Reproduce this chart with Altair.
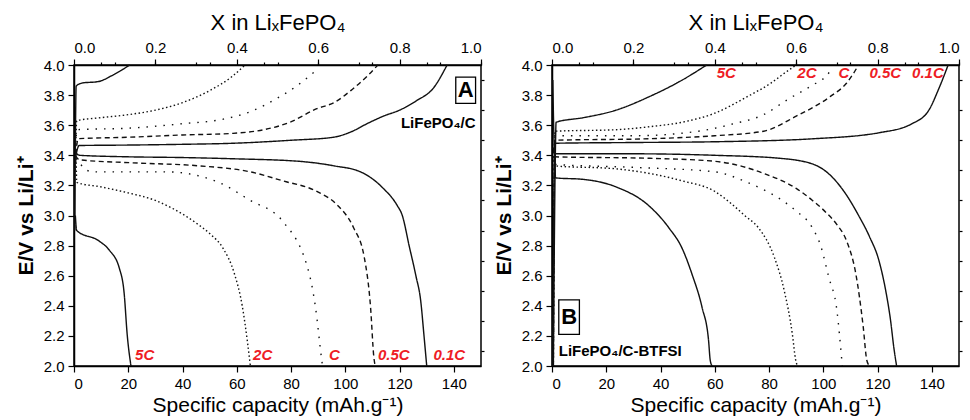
import altair as alt
import pandas as pd

FONT = "Liberation Sans"
RATES = ["5C", "2C", "C", "0.5C", "0.1C"]
DASHES = [[1, 0], [1.5, 2.5], [1.5, 7], [5, 3.5], [1, 0]]

# ---------------- Panel A : LiFePO4/C ----------------
# charge curves (capacity mAh/g, voltage V)
a_chg_5c_x = [0.3, 0.5, 0.8, 3, 9, 14, 17, 20.5]
a_chg_5c_y = [2.9, 3.45, 3.86, 3.88, 3.89, 3.93, 3.96, 4.0]
a_chg_2c_x = [0.5, 1, 10, 20, 30, 40, 50, 58, 63]
a_chg_2c_y = [3.3, 3.63, 3.65, 3.67, 3.70, 3.75, 3.83, 3.92, 4.0]
a_chg_1c_x = [0.5, 1, 20, 40, 55, 65, 75, 82, 89]
a_chg_1c_y = [3.3, 3.57, 3.58, 3.61, 3.64, 3.69, 3.78, 3.86, 3.96]
a_chg_05c_x = [0.5, 1.5, 20, 40, 58.6, 70, 79.6, 89.5, 95.8, 102, 108, 112]
a_chg_05c_y = [3.35, 3.51, 3.52, 3.535, 3.546, 3.57, 3.62, 3.71, 3.75, 3.83, 3.925, 4.0]
a_chg_01c_x = [0.5, 1.9, 20, 40, 58.6, 80, 95.6, 102, 108, 114, 120, 126, 132.6, 137.5]
a_chg_01c_y = [3.38, 3.465, 3.468, 3.473, 3.48, 3.50, 3.52, 3.555, 3.61, 3.66, 3.70, 3.76, 3.85, 4.0]
# discharge curves
a_dis_5c_x = [0.5, 1, 9.3, 13, 16.7, 18.5, 19.6, 21]
a_dis_5c_y = [3.0, 2.90, 2.83, 2.77, 2.65, 2.48, 2.21, 2.0]
a_dis_2c_x = [0.8, 1, 10, 20, 30, 36, 45, 50, 55, 59, 62, 64, 65]
a_dis_2c_y = [3.38, 3.22, 3.19, 3.15, 3.10, 3.05, 2.95, 2.88, 2.78, 2.62, 2.40, 2.15, 2.0]
a_dis_1c_x = [0.5, 6.7, 20, 34, 52, 65, 77, 87, 89, 91.3, 91.6]
a_dis_1c_y = [3.38, 3.29, 3.29, 3.29, 3.23, 3.10, 2.96, 2.59, 2.39, 2.04, 2.0]
a_dis_05c_x = [0.5, 2, 21.6, 46, 65, 77, 89.5, 97, 103, 107, 109.3, 110.5, 111]
a_dis_05c_y = [3.4, 3.37, 3.35, 3.33, 3.29, 3.23, 3.16, 3.07, 2.92, 2.72, 2.39, 2.06, 2.0]
a_dis_01c_x = [0.5, 2, 20, 40, 58.6, 83, 95.8, 105.6, 114, 119, 121, 123.5, 126, 127.8, 129, 130]
a_dis_01c_y = [3.42, 3.40, 3.39, 3.385, 3.377, 3.36, 3.33, 3.29, 3.18, 3.07, 3.0, 2.80, 2.60, 2.43, 2.2, 2.0]

# ---------------- Panel B : LiFePO4/C-BTFSI ----------------
b_chg_5c_x = [0.5, 1.3, 1.5, 11.6, 23.6, 35.9, 48, 57]
b_chg_5c_y = [2.0, 3.48, 3.62, 3.65, 3.70, 3.79, 3.90, 4.0]
b_chg_2c_x = [0.5, 1, 23.6, 36, 48, 60, 72, 80.7, 86, 90]
b_chg_2c_y = [2.0, 3.56, 3.57, 3.59, 3.62, 3.68, 3.79, 3.88, 3.95, 4.0]
b_chg_1c_x = [0.5, 1, 29.8, 54, 67, 78, 86.8, 96.4, 100.7, 103]
b_chg_1c_y = [2.0, 3.53, 3.53, 3.56, 3.61, 3.67, 3.77, 3.87, 3.92, 3.97]
b_chg_05c_x = [0.5, 1, 36, 60, 78, 90, 102.5, 108.6, 113]
b_chg_05c_y = [2.0, 3.50, 3.51, 3.53, 3.56, 3.66, 3.79, 3.88, 4.0]
b_chg_01c_x = [0.3, 1, 30, 60, 96.4, 120.6, 132.7, 138.9, 142.5, 146]
b_chg_01c_y = [2.0, 3.48, 3.485, 3.49, 3.51, 3.55, 3.61, 3.70, 3.84, 4.0]
b_dis_5c_x = [1, 1.3, 11.6, 23.6, 36, 43, 48, 51.6, 55.3, 57.7, 58.3, 59]
b_dis_5c_y = [3.45, 3.25, 3.24, 3.19, 3.06, 2.92, 2.78, 2.61, 2.39, 2.17, 2.04, 2.0]
b_dis_2c_x = [0.5, 1, 23.6, 48, 60, 66, 71, 76, 82, 85.6, 88.6, 89.8, 90.5]
b_dis_2c_y = [3.45, 3.33, 3.31, 3.23, 3.16, 3.08, 3.0, 2.92, 2.72, 2.50, 2.21, 2.04, 2.0]
b_dis_1c_x = [0.5, 1, 30, 60, 72, 84, 90, 95.9, 99, 102, 105, 106.8, 107]
b_dis_1c_y = [3.45, 3.34, 3.32, 3.29, 3.22, 3.11, 3.03, 2.92, 2.80, 2.59, 2.37, 2.04, 2.0]
b_dis_05c_x = [0.5, 1, 36, 60, 78, 90, 96, 101, 105, 108.6, 112, 114.7, 116, 117]
b_dis_05c_y = [3.45, 3.39, 3.38, 3.36, 3.28, 3.18, 3.10, 3.02, 2.94, 2.83, 2.61, 2.26, 2.04, 2.0]
b_dis_01c_x = [0.3, 1, 30, 60, 84, 96.4, 103, 108, 113, 117, 120.5, 123, 124.8, 126, 127]
b_dis_01c_y = [3.9, 3.41, 3.41, 3.40, 3.38, 3.34, 3.26, 3.15, 3.0, 2.86, 2.70, 2.50, 2.30, 2.12, 2.0]

# rate labels
a_lab_text = ["5C", "2C", "C", "0.5C", "0.1C"]
a_lab_x = [22.5, 66, 94, 112, 132.5]
a_lab_y = [2.07, 2.07, 2.07, 2.07, 2.07]
b_lab_text = ["5C", "2C", "C", "0.5C", "0.1C"]
b_lab_x = [60.7, 90.4, 105.6, 117, 132.7]
b_lab_y = [3.945, 3.945, 3.945, 3.945, 3.945]

# panel letters and sample names
a_letter = ["A"]
a_box_x = [140.7]; a_box_x2 = [148.0]; a_box_y = [3.92]; a_box_y2 = [3.745]
a_name = ["LiFePO₄/C"]; a_name_x = [148.0]; a_name_y = [3.615]
b_letter = ["B"]
b_box_x = [2.5]; b_box_x2 = [10.1]; b_box_y = [2.44]; b_box_y2 = [2.21]
b_name = ["LiFePO₄/C-BTFSI"]; b_name_x = [2.5]; b_name_y = [2.097]

# axis tick values
x_major = [0, 20, 40, 60, 80, 100, 120, 140]
x_minor = [10, 30, 50, 70, 90, 110, 130, 150]
y_major = [2.0, 2.2, 2.4, 2.6, 2.8, 3.0, 3.2, 3.4, 3.6, 3.8, 4.0]
y_minor = [2.1, 2.3, 2.5, 2.7, 2.9, 3.1, 3.3, 3.5, 3.7, 3.9]
top_major = [0, 30, 60, 90, 120, 150]   # X = 0.0 ... 1.0 (150 mAh/g == 1.0)
top_minor = [15, 45, 75, 105, 135]


def curves_df(curves):
    rows = []
    for (kind, rate), (xs, ys) in curves.items():
        for i, (x, y) in enumerate(zip(xs, ys)):
            rows.append(dict(rate=rate, curve=f"{kind}-{rate}", i=i, cap=x, v=y))
    return pd.DataFrame(rows)


dfA = curves_df({
    ("chg", "5C"): (a_chg_5c_x, a_chg_5c_y), ("chg", "2C"): (a_chg_2c_x, a_chg_2c_y),
    ("chg", "C"): (a_chg_1c_x, a_chg_1c_y), ("chg", "0.5C"): (a_chg_05c_x, a_chg_05c_y),
    ("chg", "0.1C"): (a_chg_01c_x, a_chg_01c_y),
    ("dis", "5C"): (a_dis_5c_x, a_dis_5c_y), ("dis", "2C"): (a_dis_2c_x, a_dis_2c_y),
    ("dis", "C"): (a_dis_1c_x, a_dis_1c_y), ("dis", "0.5C"): (a_dis_05c_x, a_dis_05c_y),
    ("dis", "0.1C"): (a_dis_01c_x, a_dis_01c_y),
})
dfB = curves_df({
    ("chg", "5C"): (b_chg_5c_x, b_chg_5c_y), ("chg", "2C"): (b_chg_2c_x, b_chg_2c_y),
    ("chg", "C"): (b_chg_1c_x, b_chg_1c_y), ("chg", "0.5C"): (b_chg_05c_x, b_chg_05c_y),
    ("chg", "0.1C"): (b_chg_01c_x, b_chg_01c_y),
    ("dis", "5C"): (b_dis_5c_x, b_dis_5c_y), ("dis", "2C"): (b_dis_2c_x, b_dis_2c_y),
    ("dis", "C"): (b_dis_1c_x, b_dis_1c_y), ("dis", "0.5C"): (b_dis_05c_x, b_dis_05c_y),
    ("dis", "0.1C"): (b_dis_01c_x, b_dis_01c_y),
})

XS = alt.Scale(domain=[0, 150], nice=False, zero=False)
YS = alt.Scale(domain=[2.0, 4.0], nice=False, zero=False)
AX = dict(grid=False, labelFont=FONT, titleFont=FONT, labelColor="black", titleColor="black",
          domainColor="black", tickColor="black", domainWidth=1.5, tickWidth=1.2,
          labelFontSize=15)


def panel(df, lab_text, lab_x, lab_y, letter, bx, bx2, by, by2, name, nx, ny, name_align):
    curves = alt.Chart(df).mark_line(strokeWidth=1.4, color="#111", interpolate="monotone").encode(
        x=alt.X("cap:Q", scale=XS, axis=alt.Axis(
            values=x_major, title="Specific capacity (mAh.g⁻¹)", tickSize=6,
            titleFontSize=21, titleFontWeight="normal", labelPadding=4, titlePadding=3, **AX)),
        y=alt.Y("v:Q", scale=YS, axis=alt.Axis(
            values=y_major, format=".1f", title="E/V vs Li/Li⁺", tickSize=6,
            titleFontSize=21, titleFontWeight="bold", labelPadding=4, titlePadding=7, **AX)),
        strokeDash=alt.StrokeDash("rate:N", scale=alt.Scale(domain=RATES, range=DASHES), legend=None),
        detail="curve:N",
        order="i:Q",
    )
    minor = alt.Chart(df).mark_point(opacity=0).encode(
        x=alt.X("cap:Q", scale=XS, axis=alt.Axis(values=x_minor, labels=False, domain=False,
                                                 tickSize=3, title=None, **AX)),
        y=alt.Y("v:Q", scale=YS, axis=alt.Axis(values=y_minor, labels=False, domain=False,
                                               tickSize=3, title=None, **AX)),
    )
    top = alt.Chart(df).mark_point(opacity=0).encode(
        x=alt.X("cap:Q", scale=XS, axis=alt.Axis(
            orient="top", values=top_major, labelExpr="format(datum.value / 150, '.1f')",
            title="X in LiₓFePO₄", tickSize=6, titleFontSize=22, titleFontWeight="normal",
            labelPadding=4, titlePadding=6, **AX)),
        y=alt.Y("v:Q", scale=YS, axis=None),
    )
    top_min = alt.Chart(df).mark_point(opacity=0).encode(
        x=alt.X("cap:Q", scale=XS, axis=alt.Axis(orient="top", values=top_minor, labels=False,
                                                 domain=False, tickSize=3, title=None, **AX)),
        y=alt.Y("v:Q", scale=YS, axis=None),
    )
    labs = alt.Chart(pd.DataFrame({"t": lab_text, "x": lab_x, "y": lab_y})).mark_text(
        align="left", baseline="middle", font=FONT, fontSize=15, fontWeight="bold",
        fontStyle="italic", color="#ee1c25").encode(
        x=alt.X("x:Q", scale=XS, axis=None), y=alt.Y("y:Q", scale=YS, axis=None), text="t:N")
    box = alt.Chart(pd.DataFrame({"x": bx, "x2": bx2, "y": by, "y2": by2})).mark_rect(
        fillOpacity=0, stroke="black", strokeWidth=1.3).encode(
        x=alt.X("x:Q", scale=XS, axis=None), x2="x2:Q",
        y=alt.Y("y:Q", scale=YS, axis=None), y2="y2:Q")
    let = alt.Chart(pd.DataFrame({"t": letter, "x": [(bx[0] + bx2[0]) / 2],
                                  "y": [(by[0] + by2[0]) / 2]})).mark_text(
        align="center", baseline="middle", font=FONT, fontSize=22, fontWeight="bold",
        color="black").encode(
        x=alt.X("x:Q", scale=XS, axis=None), y=alt.Y("y:Q", scale=YS, axis=None), text="t:N")
    nm = alt.Chart(pd.DataFrame({"t": name, "x": nx, "y": ny})).mark_text(
        align=name_align, baseline="middle", font=FONT, fontSize=15, fontWeight="bold",
        color="black").encode(
        x=alt.X("x:Q", scale=XS, axis=None), y=alt.Y("y:Q", scale=YS, axis=None), text="t:N")
    return alt.layer(curves, minor, top, top_min, labs, box, let, nm).resolve_axis(
        x="independent", y="independent").properties(width=407, height=301)


pA = panel(dfA, a_lab_text, a_lab_x, a_lab_y, a_letter, a_box_x, a_box_x2, a_box_y, a_box_y2,
           a_name, a_name_x, a_name_y, "right")
pB = panel(dfB, b_lab_text, b_lab_x, b_lab_y, b_letter, b_box_x, b_box_x2, b_box_y, b_box_y2,
           b_name, b_name_x, b_name_y, "left")

chart = alt.hconcat(pA, pB, spacing=71, bounds="flush").properties(
    padding={"left": 14, "top": 10, "right": 2, "bottom": 0},
    background="white",
).configure_view(stroke="black", strokeWidth=1.5)

chart.save("out.html", embed_options={"renderer": "svg", "actions": False})
